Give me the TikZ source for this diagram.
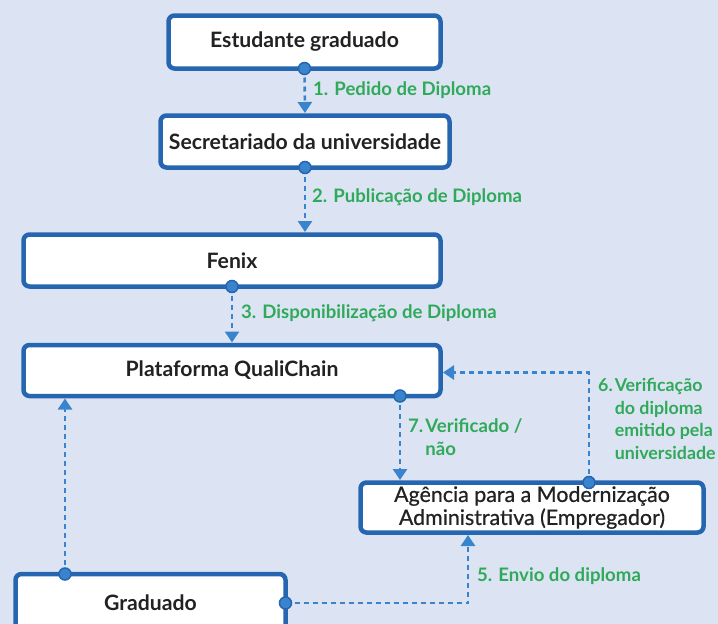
\documentclass[tikz,border=0pt]{standalone}
\usepackage{fontspec}
\setmainfont{Lato}
\usetikzlibrary{arrows.meta,calc}
\definecolor{bgc}{HTML}{DCE4F3}
\definecolor{boxblue}{HTML}{2666B0}
\definecolor{dashblue}{HTML}{3A84CD}
\definecolor{lblgreen}{HTML}{30AA5A}
\definecolor{txt}{HTML}{222222}
\tikzset{
  stagebox/.style={draw=boxblue, line width=4.5pt, fill=white, rounded corners=6pt,
    inner sep=0pt, outer sep=0pt, font=\fontsize{21.2}{24}\selectfont\bfseries, text=txt, align=center},
  flow/.style={draw=dashblue, line width=2.6pt, dash pattern=on 5pt off 4pt,
    -{Triangle[length=11pt,width=14pt]}, shorten >=2.5pt},
  lbl/.style={text=lblgreen, font=\fontsize{18.6}{22.5}\selectfont\bfseries, anchor=west, inner sep=0pt, align=left},
  portdot/.style={fill=dashblue, draw=boxblue, line width=1.5pt}
}
\begin{document}
\begin{tikzpicture}[x=1pt,y=-1pt]
\fill[bgc] (0,0) rectangle (718,624);
\useasboundingbox (0,0) rectangle (718,624);

\node[stagebox, minimum width=272pt, minimum height=53pt] (b1) at (304.5,42) {Estudante graduado};
\node[stagebox, minimum width=289pt, minimum height=52pt] (b2) at (305,141.5) {Secretariado da universidade};
\node[stagebox, minimum width=417pt, minimum height=52pt] (b3) at (232,260.5) {Fenix};
\node[stagebox, minimum width=417pt, minimum height=51pt] (b4) at (232,370.5) {Plataforma QualiChain};
\node[stagebox, minimum width=343pt, minimum height=50pt, font=\fontsize{21.4}{23}\selectfont\addfontfeature{FakeBold=0.6}] (b5) at (532,507.5) {Agência para a Modernização\\Administrativa (Empregador)};
\node[stagebox, minimum width=270pt, minimum height=58pt] (b6) at (150.5,603) {Graduado};

\coordinate (x7) at (400,0);
\coordinate (x6) at (589,0);
\coordinate (x5) at (468,0);
\coordinate (xg) at (65,0);

% 1
\draw[flow] (b1.south) -- (b2.north);
\fill[portdot] (b1.south) circle (6pt);
% 2
\draw[flow] (b2.south) -- (b2.south |- b3.north);
\fill[portdot] (b2.south) circle (6pt);
% 3
\draw[flow] (b3.south) -- (b4.north);
\fill[portdot] (b3.south) circle (6pt);
% 7
\draw[flow] (x7 |- b4.south) -- (x7 |- b5.north);
\fill[portdot] (x7 |- b4.south) circle (6pt);
% 6
\draw[flow] (x6 |- b5.north) -- ($(x6 |- b4.east)+(0,2)$) -- ($(b4.east)+(0,2)$);
\fill[portdot] (x6 |- b5.north) circle (6pt);
% graduado -> plataforma
\draw[flow] (xg |- b6.north) -- (xg |- b4.south);
\fill[portdot] (xg |- b6.north) circle (6pt);
% 5
\draw[flow] (b6.east) -- (x5 |- b6.east) -- (x5 |- b5.south);
\fill[portdot] (b6.east) circle (6pt);

\node[lbl] (l1) at (313,90) {1. Pedido de Diploma};
\node[lbl] (l2) at (312,197) {2. Publicação de Diploma};
\node[lbl] (l3) at (241,313) {3. Disponibilização de Diploma};
\node[lbl, anchor=north west] (l7) at (408,417) {\begin{tabular}{@{}l@{\hspace{2pt}}l@{}}7.&Verificado /\\&não\end{tabular}};
\node[lbl, anchor=north west, font=\fontsize{17.8}{22.5}\selectfont\bfseries] (l6) at (598,376) {\begin{tabular}{@{}l@{\hspace{2pt}}l@{}}6.&Verificação\\&do diploma\\&emitido pela\\&universidade\end{tabular}};
\node[lbl] (l5) at (477,576) {5. Envio do diploma};
\end{tikzpicture}
\end{document}
